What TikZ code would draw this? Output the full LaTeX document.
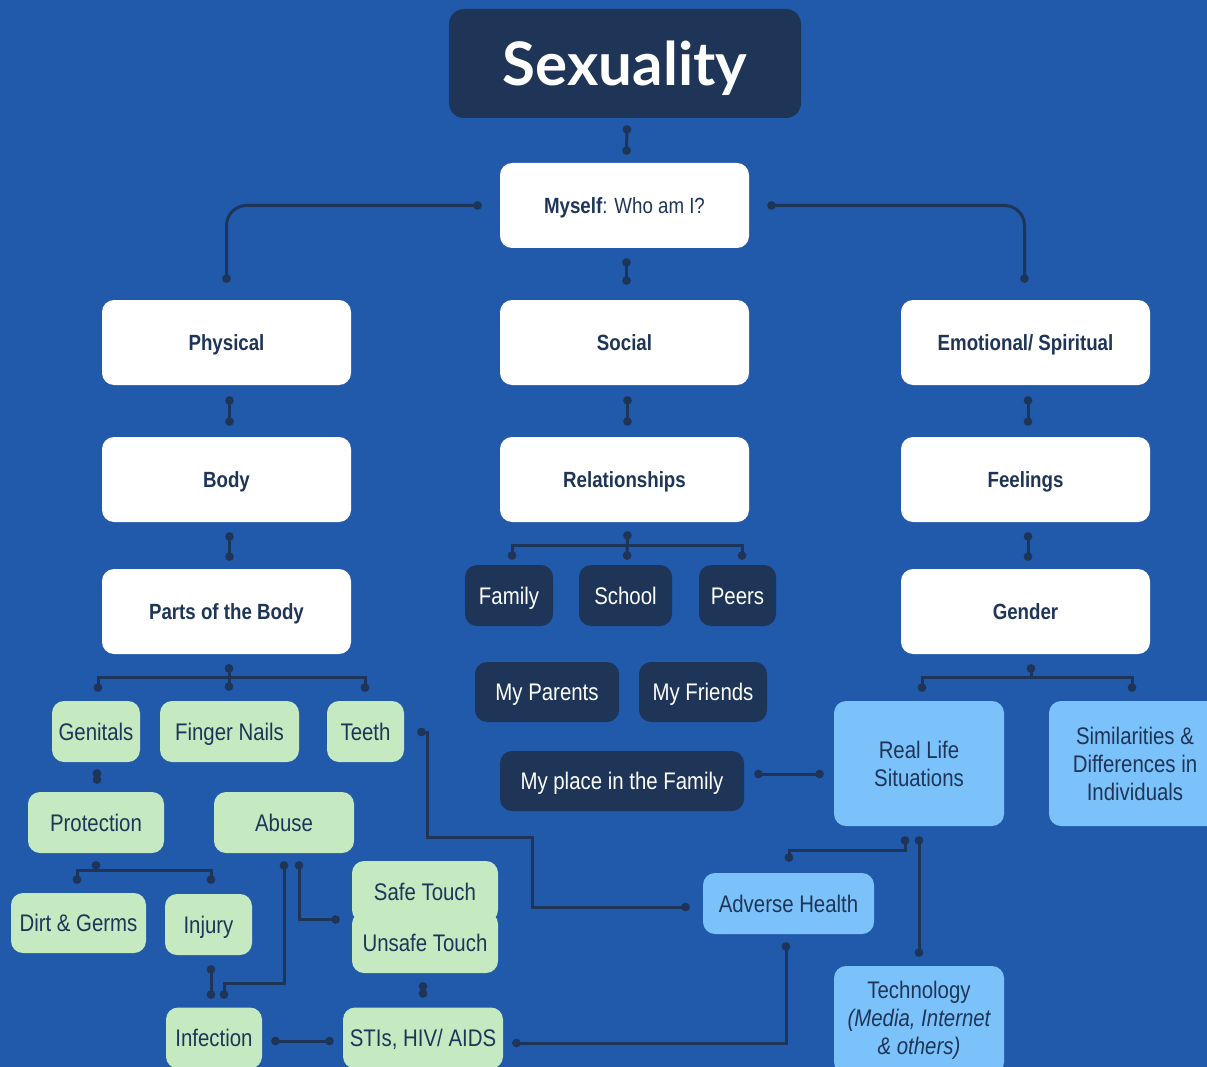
\documentclass[tikz,border=0pt]{standalone}
\usepackage{fontspec}
\setmainfont{Liberation Sans}[FakeStretch=0.85]
\newfontfamily\titlefont{Lato}
\usetikzlibrary{arrows.meta,calc}

\definecolor{bgblue}{HTML}{2159AB}
\definecolor{navy}{HTML}{1E3557}
\definecolor{mint}{HTML}{C5EAC2}
\definecolor{sky}{HTML}{7CC2FA}

\tikzset{
  box/.style={rounded corners=12pt, align=center, inner sep=0pt, minimum height=61pt},
  oneline/.style={text height=17pt, text depth=0pt},
  whitebox/.style={box, fill=white, text=navy, minimum width=249pt, minimum height=85pt,
    text height=16pt, text depth=0pt, font=\fontsize{22}{26}\selectfont\bfseries},
  navybox/.style={box, oneline, fill=navy, text=white, font=\fontsize{24}{28}\selectfont},
  greenbox/.style={box, oneline, fill=mint, text=navy, font=\fontsize{24}{28}\selectfont},
  bluebox/.style={box, fill=sky, text=navy, font=\fontsize{24}{28}\selectfont},
  link/.style={draw=navy, line width=3pt, {Circle[length=8.5pt]}-{Circle[length=8.5pt]}},
  stem/.style={draw=navy, line width=3pt, {Circle[length=8.5pt]}-}
}

\begin{document}
\begin{tikzpicture}[x=1pt,y=-1pt]
  \useasboundingbox (0,0) rectangle (1207,1067);
  \fill[bgblue] (0,0) rectangle (1207,1067);
  \clip (0,0) rectangle (1207,1067);

  % top levels
  \node[box, fill=navy, text=white, minimum width=352pt, minimum height=109pt, rounded corners=15pt,
    text height=44pt, text depth=0pt,
    font=\titlefont\bfseries\fontsize{60}{70}\selectfont] (title) at (625,63.5) {Sexuality};
  \node[whitebox, font=\fontsize{22}{26}\selectfont] (myself) at (624.5,205.5) {\textbf{Myself}: Who am I?};
  \node[whitebox] (physical) at (226.5,342.5) {Physical};
  \node[whitebox] (social) at (624.5,342.5) {Social};
  \node[whitebox] (emotional) at (1025.5,342.5) {Emotional/ Spiritual};
  \node[whitebox] (body) at (226.5,479.5) {Body};
  \node[whitebox] (relation) at (624.5,479.5) {Relationships};
  \node[whitebox] (feelings) at (1025.5,479.5) {Feelings};
  \node[whitebox] (parts) at (226.5,611.5) {Parts of the Body};
  \node[whitebox] (gender) at (1025.5,611.5) {Gender};

  % social
  \node[navybox, minimum width=88pt] (family) at (509,595.5) {Family};
  \node[navybox, minimum width=93pt] (school) at (625.5,595.5) {School};
  \node[navybox, minimum width=77pt] (peers) at (737.5,595.5) {Peers};
  \node[navybox, minimum width=144pt, minimum height=60pt] (parents) at (547,692) {My Parents};
  \node[navybox, minimum width=128pt, minimum height=60pt] (friends) at (703,692) {My Friends};
  \node[navybox, minimum width=244pt, minimum height=60pt] (place) at (622,781) {My place in the Family};

  % physical
  \node[greenbox, minimum width=88pt] (genitals) at (96,731.5) {Genitals};
  \node[greenbox, minimum width=139pt] (nails) at (229.5,731.5) {Finger Nails};
  \node[greenbox, minimum width=77pt] (teeth) at (365.5,731.5) {Teeth};
  \node[greenbox, minimum width=136pt] (protection) at (96,822.5) {Protection};
  \node[greenbox, minimum width=140pt] (abuse) at (284,822.5) {Abuse};
  \node[greenbox, minimum width=135pt, minimum height=60pt] (dirt) at (78.5,923) {Dirt \& Germs};
  \node[greenbox, minimum width=87pt] (injury) at (208.5,924.5) {Injury};
  \node[greenbox, minimum width=146pt] (safe) at (425,891.5) {Safe Touch};
  \node[greenbox, minimum width=146pt] (unsafe) at (425,942.5) {Unsafe Touch};
  \node[greenbox, minimum width=96pt] (infection) at (214,1038) {Infection};
  \node[greenbox, minimum width=160pt] (stis) at (423,1038) {STIs, HIV/ AIDS};

  % emotional
  \node[bluebox, minimum width=170pt, minimum height=125pt] (reallife) at (919,763.5) {Real Life\\Situations};
  \node[bluebox, minimum width=172pt, minimum height=125pt] (similar) at (1135,763.5) {Similarities \&\\Differences in\\Individuals};
  \node[bluebox, minimum width=171pt, oneline] (adverse) at (788.5,903.5) {Adverse Health};
  \node[bluebox, minimum width=170pt, minimum height=108pt] (tech) at (919,1020)
    {Technology\\{\itshape (Media, Internet}\\{\itshape \& others)}};

  % connectors
  \draw[link] ($(title.south)+(2,7)$) -- ($(myself.north)+(2,-8)$);
  \draw[link, rounded corners=20pt] ($(myself.west)+(-18,0)$) -| ($(physical.north)+(0,-17)$);
  \draw[link, rounded corners=20pt] ($(myself.east)+(18,0)$) -| ($(emotional.north)+(-1,-17)$);
  \draw[link] ($(myself.south)+(2,10)$) -- ($(social.north)+(2,-15)$);
  \draw[link] ($(physical.south)+(3,11)$) -- ($(body.north)+(3,-11)$);
  \draw[link] ($(body.south)+(3,10)$) -- ($(parts.north)+(3,-8)$);
  \draw[link] ($(social.south)+(3,11)$) -- ($(relation.north)+(3,-11)$);
  \draw[link] ($(emotional.south)+(2.5,11)$) -- ($(feelings.north)+(2.5,-11)$);
  \draw[link] ($(feelings.south)+(2.5,10)$) -- ($(gender.north)+(2.5,-8)$);

  \draw[link] ($(relation.south)+(3,9)$) -- ($(school.north)+(1.5,-5)$);
  \draw[link] ($(family.north)+(3,-5)$) |- ($(relation.south)+(0,23)$) -| ($(peers.north)+(4.5,-5)$);

  \draw[link] ($(parts.south)+(2.5,10)$) -- ($(nails.north)+(-0.5,-10)$);
  \draw[link] ($(genitals.north)+(2,-9)$) |- ($(parts.south)+(0,23)$) -| ($(teeth.north)+(-0.5,-9)$);
  \draw[link] ($(genitals.south)+(1,7)$) -- ($(protection.north)+(1,-8)$);
  \draw[stem] ($(protection.south)+(0,8)$) -- ($(protection.south)+(0,17)$);
  \draw[link] ($(dirt.north)+(-1.5,-9)$) |- ($(protection.south)+(0,17)$) -| ($(injury.north)+(2.5,-10)$);
  \draw[link] ($(injury.south)+(2.5,10)$) -- ($(infection.north)+(-3,-8.5)$);
  \draw[link] ($(abuse.south)+(0,8)$) -- ++(0,122) -| ($(infection.north)+(10,-8.5)$);
  \draw[link] ($(abuse.south)+(15,8)$) |- ($(unsafe.west)+(-12,-23)$);
  \draw[link] ($(unsafe.south)+(-2,9)$) -- ($(stis.north)+(0,-9.5)$);
  \draw[link] ($(infection.east)+(9,3)$) -- ($(stis.west)+(-9,3)$);
  \draw[link] ($(teeth.east)+(13,0.5)$) -- ++(10,0) -- ++(0,105) -- ++(105,0) |- ($(adverse.west)+(-13,3.5)$);

  \draw[link] ($(place.east)+(10,-7)$) -- ($(reallife.west)+(-10,10.5)$);
  \draw[link] ($(adverse.south)+(-2.5,8)$) |- ($(stis.east)+(9,5)$);
  \draw[link] ($(reallife.south)+(-14,10)$) -- ++(0,14) -| ($(adverse.north)+(0.5,-11)$);
  \draw[link] ($(reallife.south)+(0,10)$) -- ($(tech.north)+(0,-9)$);
  \draw[stem] ($(gender.south)+(5.5,10)$) -- ($(gender.south)+(5.5,23)$);
  \draw[link] ($(reallife.north)+(3,-9)$) |- ($(gender.south)+(0,23)$) -| ($(similar.north)+(-3,-9)$);
\end{tikzpicture}
\end{document}
